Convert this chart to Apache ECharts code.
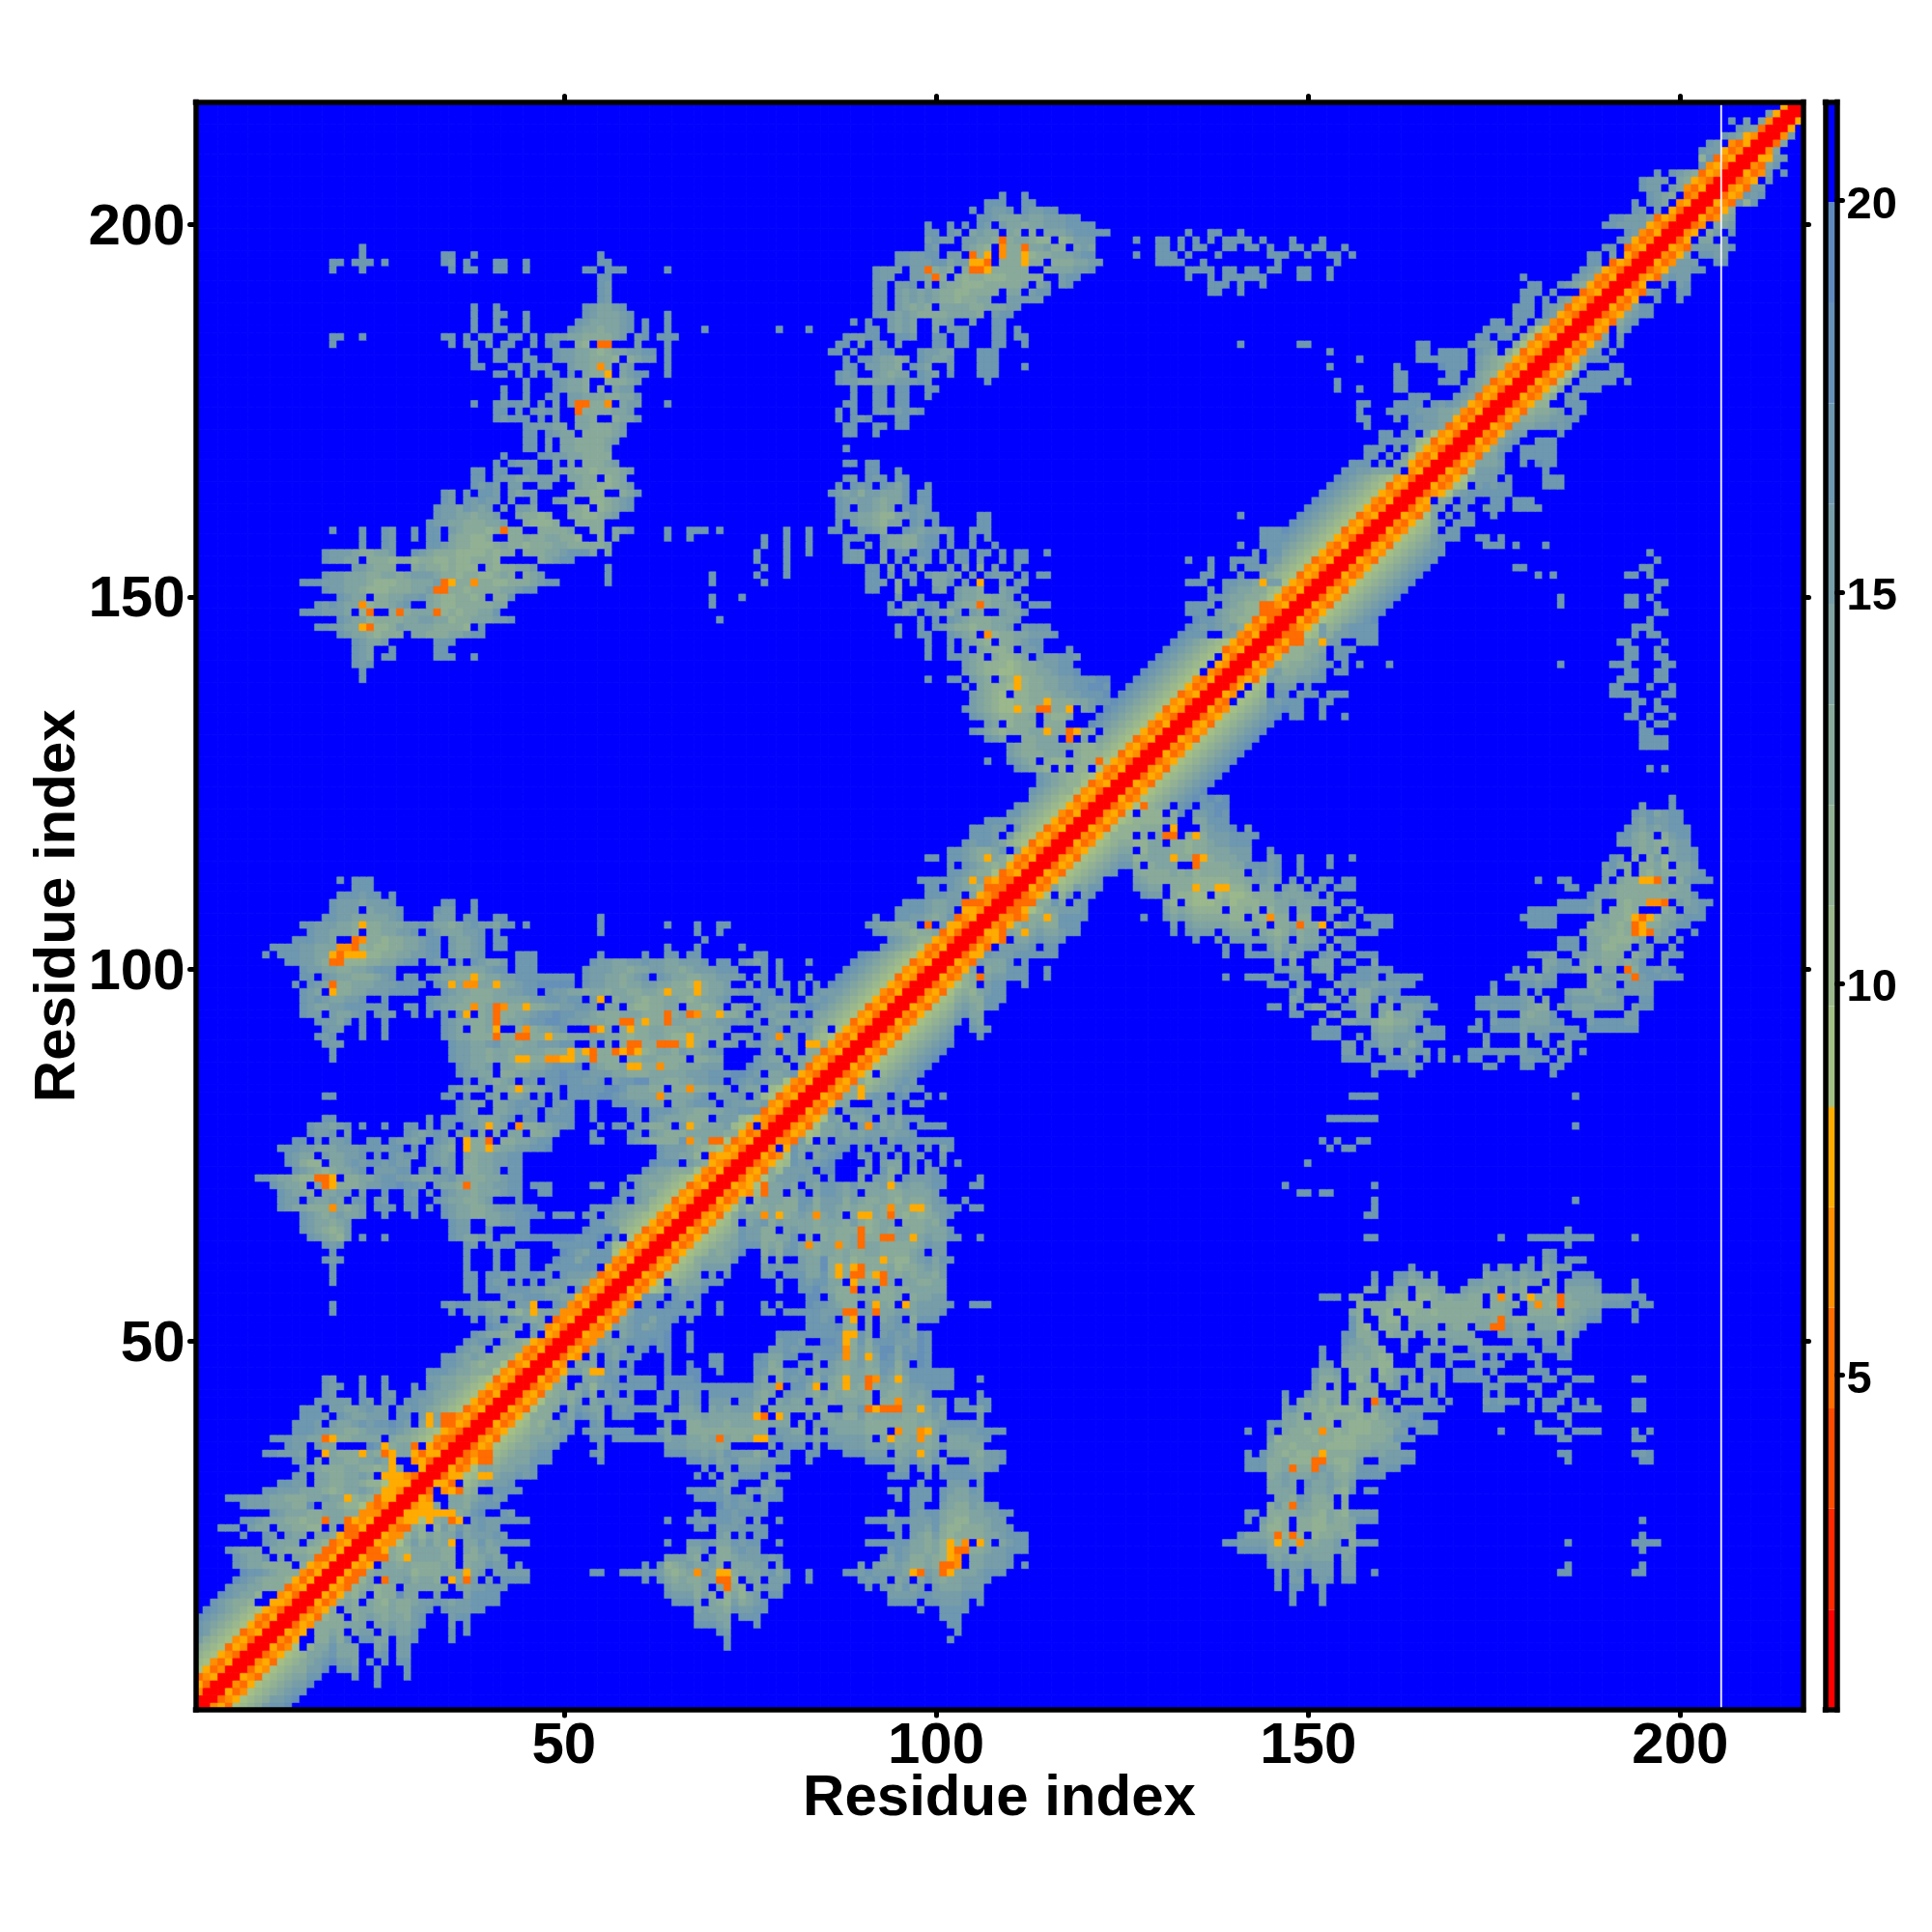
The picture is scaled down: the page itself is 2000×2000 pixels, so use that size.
<!DOCTYPE html>
<html><head><meta charset="utf-8">
<style>html,body{margin:0;padding:0;background:#fff}#c{width:2000px;height:2000px}</style>
<script src="https://cdn.jsdelivr.net/npm/echarts@6/dist/echarts.min.js"></script>
</head><body><div id="c"></div>
<script>
const residues = Array.from({length:216},(_,i)=>String(i+1));
const axisTicks = [50,100,150,200];
const colorbarTicks = [5,10,15,20];
const levelChars = "012345abcdefghi~";
const levelColors = ["#FF0000","#FF2800","#FF4B00","#FF6C00","#FF8E00","#FFAB00","#A4BF86","#9BB88D","#92B194","#89AA9B","#80A4A2","#779DA9","#6E97B0","#6690B7","#5F8ABD","#0000FF"];
const levelBreaks = [0.72,2.0,3.29,4.57,5.86,7.14,8.42,9.71,10.99,12.28,13.56,14.85,16.13,17.41,18.7,19.98,21.26];
const levelValues = [1.4,2.6,3.9,5.2,6.5,7.8,9.1,10.4,11.6,12.9,14.2,15.5,16.8,18.1,19.3,20.6];

// diagonal band, one string per residue 1..216, characters run from |i-j|=12 to |i-j|=0
const diagonalBand = [
"hgfedcba43500","hgfedcba54300","hgfedcba35400","hgfedcba45300","hgfedcba34500","hgfedcba53400","hgfedcba43500","hgfedcba54300",
"hgfedcba35400","hgfedcba45300","hgfedcba34500","hgfedcba53400","hgfedcba43500","hgfedcba54300","hgfedcba35400","hgfedcba45300",
"hgfedcba34500","hgfedcba53400","hgfedcba43500","hgfedcba54300","hgfedcba35400","hgfedcba33500","hgfedcba34500","hgfedcba53400",
"hgfedcba43500","hgfedcba54300","hgfedcba35400","hgfedcba45300","hgfedcba34500","hgfedcba53400","hgfedcba43500","hgfedcba54300",
"hgfedcba35400","hgfedcba45300","hgfedcba34500","hgfedcba53400","hgfedcba43500","hgfedcba54300","hgfedcba35400","hgfedcba45300",
"hgfedcba34500","hgfedcba53400","hgfedcba43500","hgfedcba54300","hgfedcba35400","hgfedcba45300","hgfedcba34500","hgfedcba53400",
"hgfedcba43500","hgfedcba54300","hgfedcba35400","hgfedcba45300","hgfedcba34500","hgfedcba53400","hgfedcba43500","hgfedcba54300",
"hgfedcba35400","hgfedcba45300","hgfedcba34500","hgfedcba53400","hgfedcba43500","hgfedcba54300","hgfedcba35400","hgfedcba45300",
"hgfedcba34500","hgfedcba53400","hgfedcba43500","hgfedcba54300","hgfedcba35400","hgfedcba45300","hgfedcba34500","hgfedcba53400",
"hgfedcba43500","hgfedcba54300","hgfedcba35400","hgfedcba45300","hgfedcba34500","hgfedcba53400","hgfedcba43500","hgfedcba54300",
"hgfedcba35400","hgfedcba45300","hgfedcba34500","hgfedcba53400","hgfedcba43500","hgfedcba54300","hgfedcba35400","hgfedcba45300",
"hgfedcba34500","hgfedcba53400","hgfedcba43500","hgfedcba54300","hgfedcba35400","hgfedcba45300","hgfedcba34500","hgfedcba53400",
"hgfedcba43500","hgfedcba54300","hgfedcba35400","hgfedcba45300","hgfedcba34500","hgfedcba53400","..fedcba43500","..fedcba54300",
".gfedcba35400",".gfedcba45300",".gfedcba34500",".gfedcba53400",".gfedcba43500",".gfedcba54300",".gfedcba35400",".gfedcba45300",
"..fedcba34500","..fedcba53400","..fedcba43500","..fedcba54300","..fedcba35400","..fedcba45300","..fedcba34500","..fedcba53400",
"..fedcba43500","..fedcba54300","..fedcba35400","..fedcba45300","..fedcba34500","..fedcba53400","..fedcba43500","..fedcba54300",
"hgfedcba35400","hgfedcba45300","hgfedcba34500","hgfedcba53400","hgfedcba43500","hgfedcba54300","hgfedcba35400","hgfedcba45300",
"hgfedcba34500","hgfedcba53400","hgfedcba43500","hgfedcba54300","hgfedcba35400","hgfedcba45300","hgfedcba34500","hgfedcba53400",
"hgfedcba43500","hgfedcba54300","hgfedcba35400","hgfedcba45300","hgfedcba34500","hgfedcba53400","hgfedcba43500","hgfedcba54300",
"hgfedcba35400","hgfedcba45300","hgfedcba34500","hgfedcba53400","hgfedcba43500","hgfedcba54300","hgfedcba35400","hgfedcba45300",
"hgfedcba34500","hgfedcba53400","hgfedcba43500","hgfedcba54300","hgfedcba35400","hgfedcba45300","......ba34500","......ba53400",
"......ba43500","......ba54300","......ba35400","......ba45300","......ba34500","......ba53400","......ba43500","......ba54300",
"......ba35400","......ba45300","......ba34500","......ba53400","......ba43500","......ba54300","......ba35400","......ba45300",
"......ba34500","......ba53400","......ba43500","......ba54300","......ba35400","......ba45300","......ba34500","......ba53400",
"......ba43500","......ba54300","......ba35400","......ba45300","......ba34500","......ba53400","......ba43500","......ba54300",
"......ba35400",".......a45300",".......a34500",".......a53400",".......a43500",".......a54300",".......a35400",".......a45300",
"......ca34500","......da53400","......ea43500",".......fe5400",".......gfe300",".........e400",".........f500","..........500"
];

// contacts off the band, "row|col:cells col:cells", '.' marks a gap
const blobLeftTop = [
"197|23:g","196|23:g 34:gg 38:g 55:g","195|19:gg 22:ggg 26:g 34:gf 37:g 41:gg 45:g 55:gg",
"194|19:g 23:g 35:g 37:gg 41:gg 45:g 53:gg 56:ggg 64:g","193|55:gg","192|55:gf","191|55:gf","190|55:gf",
"189|38:g 41:g 53:gfeefg","188|38:g 41:gg 45:g 53:gfeeefg 64:g","187|38:g 41:g 45:g 52:gfeeeefg 61:g 64:g",
"186|38:g 41:gg 45:g 51:gfeedeefg 61:g 64:g 69:g 79:g 83:g",
"185|19:gg 23:g 34:gg 37:g 39:gg 43:gg 46:g 48:gffeeddddef.fg 61:g 63:ggg",
"184|19:g 35:g 37:gg 40:g 42:gg 46:g 48:gg 52:dc 54:. 55:33 60:f 64:g",
"183|38:g 41:gg 45:g 49:gffeedcdeeffgg 64:g","182|38:g 41:gg 45:gg 49:gffeedddc.deff 64:g",
"181|38:gg 43:gg 46:ggf 51:feed 55:4 56:d 58:ef 64:g","180|41:gg 44:g 46:g 48:gg 51:g 53:edd 56:5 58:efgg 64:g",
"179|45:g 49:gfeed 55:. 56:dddef","178|42:g 45:g 49:gfeed 54:. 55:d 56:. 57:eff",
"177|42:g 45:g 48:gg 51:ffeeeddeeg","176|38:g 41:gfggf 47:g 49:f 51:f 52:33 54:dd 56:4 58:eff 64:g",
"175|41:gg 44:g 46:gf 48:g 49:f 52:3 53:ddddeef","174|41:gfgg 45:g 47:g 49:f 52:eed 55:.. 57:deeg",
"173|45:gfffee 52:eedddef","172|45:gg 48:gfeef 52:. 53:ddddef","171|45:gg 48:f 50:eeddddef","170|45:gg 48:f 50:eedddde",
"169|42:g 47:ggffeedddd","168|41:g 43:gfff 49:f 51:e 53:dddef","167|38:gg 41:gg 45:gf 49:feeddcdddef",
"166|38:gg 41:gffeeffff 51:eedd 55:. 56:cde","165|38:gfgf 43:ff 47:ff 52:eddccdef","164|34:gf 37:g 39:ggf 43:feff 51:eddcc 57:. 58:deg",
"163|34:gf 37:gfgff 43:f 46:f 49:fee 54:ccdefg","162|33:gffegfe 40:f 42:f 44:ffe 51:edc 54:. 55:cdefg",
"161|33:gffeedeef 44:eddcd 51:ddccdef","160|32:gffeedddeef 45:dcccd 52:dd 54:dd 58:.",
"159|19:g 23:g 26:gf 30:g 32:gg 35:fedddcde 42:3 43:dd 47:dddde 54:dd 57:efg 64:g 67:ggg 71:g 80:g 83:g",
"158|23:g 26:gf 30:g 32:gg 35:eddccd 42:. 43:ddeddeeddc 55:d 56:. 57:e 64:g 67:g 77:g 80:g 83:g",
"157|23:g 26:gf 32:ggfeddcccdeddcdddeedddd 55:d 56:e 77:g 80:g 83:g",
"156|18:gfffeddeef 30:gfedddccccdcdd 45:dddeefggg 54:e 56:e 76:g 80:g 83:g",
"155|18:gffeee 23:. 24:dddcddcddccdccdddc 46:. 47:defgg 76:g 80:g",
"154|22:ffeddd 29:. 30:deddcdcccd 39:. 40:dcddeef 56:g 77:g 80:g",
"153|18:gffeeeddeedefffeddcddccdedd 44:. 45:def 56:g 70:g 76:g 80:g",
"152|15:gggfffeeedcccddeeefdd 34:35 36:ddc 38:4 39:ddccdddefgg 56:g 70:g 77:g",
"151|18:gffeedcccdddeefedd 33:33 35:ddcddddeefgg","150|20:gfeed 24:. 25:ddeeffgedccddcdcc 40:. 41:ddg 70:g 74:g",
"149|17:gfgfeed 23:4 24:cddefg 31:. 32:edccdddddee 70:g","148|15:gggfffefe 22:. 23:c 24:3 26:. 27:d 28:3 29:deee 33:3 34:cdcddeeg",
"147|20:gfeecddddeeffeecddeeeffg 71:g","146|17:ggffeed 23:5 24:3 25:ccdfeeeeddddcd 38:. 39:g",
"145|20:gfeedcddd 29:. 30:eedddeefg 38:gg","144|22:gfeef 33:ggg","143|22:gfe 27:g 33:gg","142|22:gfe 26:gg 33:ggg 38:g",
"141|22:gfg","140|23:g","139|23:g"
];
const blobTopMiddle = [
"204|109:g 112:g","203|107:ggg 112:gg","202|105:g 107:gffg 112:gffgg","201|106:ggfeeefeefffgg",
"200|99:g 102:g 104:g 106:gf 109:feedeefffgggg","199|99:gg 102:gf 105:efee 109:. 110:ed 112:. 113:d 114:. 115:eeefggggg",
"198|99:fgf 102:f 104:ffeed 109:3 110:deedc 115:c 116:. 117:cdfff","197|99:gf 101:. 104:fedcd 108:. 109:4 110:ddd 112:3 113:eefddddce 118:. 119:ef",
"196|95:ggffgg 101:. 102:ff 104:. 105:3 106:d 107:5 108:. 109:4 110:dd 112:5 113:cddeeefgg",
"195|95:ggfffggefff 105:55 107:3 108:. 109:d 110:dd 112:5 113:ddd 115:. 116:dddeeff",
"194|92:gfff 96:. 97:ffe 99:3 100:ded 103:. 104:d 105:33 107:5 108:ddddd 113:.. 115:d 116:eeeffg",
"193|92:gff 96:. 97:ffe 100:3 101:d 102:. 103:dcddcccddddd 116:. 117:fgg",
"192|92:gg 95:ffg 98:. 99:e 100:. 101:eddcccddddde 113:. 114:ef 117:fg",
"191|92:gg 94:. 95:fefefeddccdddd 109:. 110:ee 112:. 113:fgg","190|92:gg 95:fefefeddcddee 109:. 110:ff 112:fff",
"189|92:gg 94:. 95:fededfed 100:. 102:eeeddeeeff","188|92:gffefeddddeeeed 108:fgg","187|89:g 91:g 94:fefe 99:. 100:eef 103:.. 105:f 108:gg",
"186|91:gg 93:. 94:fefe 99:. 100:e 101:. 102:f 103:gg 108:gg 111:g","185|88:gffgg 95:ggf 100:gg 103:gg 108:gg 111:gg",
"184|87:gg 89:. 90:f 92:fg 94:. 95:f 96:. 100:gg 103:gg 108:gg 112:g","183|86:gg 88:. 89:g 92:fgg 96:. 98:gffee 104:.. 106:ggg",
"182|88:g 89:. 90:ggfeedef 97:. 98:gfeef 106:ggg","181|88:gg 90:. 91:ffeedd 96:. 97:gfe 102:f 106:ggg 112:g",
"180|87:gfg 91:. 92:fedee 97:. 98:gfe 102:g 106:ggg","179|87:gffeeeeefffgf 107:g","178|89:g 92:gg 95:gg 99:gg","177|89:g 92:gg 95:gg 99:g",
"176|88:gg 92:gg 95:gg","175|87:g 88:. 89:g 92:gfgfgfg","174|87:g 89:gfg 95:gg","173|88:gg 92:gg 95:gg","172|88:gg 92:g","170|88:g"
];
const blobSparseTop = [
"199|134:g 137:gg 141:g","198|127:g 130:gg 133:g 135:g 137:g 139:gggg 144:g 148:g 152:g",
"197|130:gg 133:g 135:gg 139:gg 142:gg 145:g 148:gg 151:gg 155:g","196|127:g 130:ggg 134:g 138:g 145:ggg 150:g 153:gg 156:g",
"195|130:gggg 136:g 146:g 154:g","194|134:ggg 137:g 139:gg 142:gg 145:gg 149:gg 153:g","193|134:g 137:g 139:ggg 142:ggg 149:gg 153:g",
"192|137:ggg 141:g 144:g","191|137:gg 141:g","184|141:g 149:gg","183|153:g","182|157:g","181|153:g 162:g","180|162:gg","179|154:g 162:gg",
"178|154:g 157:g 162:gg","176|157:gg 162:gg 164:gg","175|157:g 161:g 163:gg","174|157:gg 162:g","173|158:g","172|160:gg 162:. 163:gg 165:. 166:e",
"171|160:gggg 164:f","170|158:ggg 161:. 162:g 163:. 164:e","169|158:gg 160:. 161:g 162:. 163:e","168|156:ggg 159:. 160:g 161:. 162:ed","167|155:ggffeeeed 163:.",
"161|141:g"
];
const bandTopEdge = [
"214|207:g 209:f","213|207:.","212|206:gf 208:ed","211|204:gf 206:. 207:fe","210|203:gffedd","209|204:gfedc","208|203:gfeedc",
"207|197:g 199:gf 201:edcb","206|195:gfff 199:. 200:edcb","205|195:gff 198:. 199:fedc","204|196:gfe 199:d 200:.","203|194:g 196:gfe 199:.",
"202|194:gf 196:. 197:f 198:. 199:d","201|191:ggfffe","200|190:ggffffe","199|193:gfeed","198|192:gfee","197|190:gg 192:. 193:d",
"196|188:gg 190:. 191:f 192:. 193:d","195|188:gg 190:. 191:e","194|187:gfedc","193|179:g 186:gfe","192|180:gg 184:gfed",
"191|179:ggg 183:g 184:... 187:e","190|179:gg 181:. 182:g 183:. 184:fe","189|178:ggg 181:. 182:gfe","188|178:ggg 181:. 182:gfd",
"187|175:gg 178:gg 180:. 181:fe","186|174:gggfg 179:. 180:e","185|173:gg 175:. 176:gg 178:. 179:d","184|165:gg 172:gfff 177:. 178:d",
"183|165:gg 168:gggg 172:. 173:gfe 176:. 177:d","182|165:ggg 168:gggg 172:. 173:fedcb","181|162:g 168:hggg 172:. 173:fedc",
"180|162:gg 169:gg 171:.. 173:edc","179|162:gg 168:ggg 171:. 172:fedcb","178|162:gg 171:gfedc","177|164:ggg 170:gfedc",
"176|164:gg 166:. 167:gf 169:gfed","175|162:g 164:gfffeedd","174|162:g 164:ggffeeddcc","173|164:gfffeedcb",
"159|144:ggg","158|144:ggg","157|141:g 144:ggg","156|143:g 144:. 145:gg","155|134:g 137:g 140:gggg 144:. 145:ff",
"154|137:g 140:g 141:. 142:gg 144:ff","153|136:gg 141:g 142:.. 144:f","152|134:ggg 137:.. 139:ggffe 144:5 145:ff","151|137:g 138:. 139:gfeedd",
"150|137:ggfeeddc","149|134:ggg 137:f 138:. 139:fedcc 144:33","148|134:ggg 137:. 138:feddcc 144:33","147|137:gfedccb 145:3","146|137:gfefdcc",
"145|134:ggg 137:.. 139:fedcba 145:5","142|138:.","141|137:.","140|136:."
];
const blobUpperMiddle = [
"168|88:gg 91:gg","167|91:gg 95:g","166|88:gf 91:gfg 95:gg","165|87:g 88:. 89:gfg 92:. 93:gfeg 99:g","164|86:gfefdffeeeg 98:gg","163|87:gfeffedeeg 98:gg",
"162|87:gf 89:. 90:ffedeef 95:. 96:g 97:gfg","161|87:gffeedcceef 97:gfgg 106:gg","160|87:g 88:. 89:feedceef 96:. 97:gf 99:. 100:g 106:gg",
"159|86:gg 88:.. 90:gfedd 94:.. 96:gfeffeg 105:ggg","158|88:gg 90:g 93:feeddfgg 101:. 102:g 105:g 106:. 107:g","157|88:g 91:g 93:feeddfgg 101:. 102:g 105:g 107:. 108:g",
"156|88:gff 93:e 95:gf 98:gg 101:g 103:gg 106:gg 109:g 111:gg 115:g","155|88:gff 93:e 95:g 97:gfg 101:g 103:gg 106:f 109:g 111:gg",
"154|91:gg 94:e 96:f 98:e 102:f 104:e 106:d 108:f 111:g","153|91:gg 94:f 96:gf 99:feefe 104:. 105:f 106:. 107:gffff 111:. 112:g 114:gg",
"152|91:ggf 94:. 95:d 96:. 97:g 100:eeg 103:. 104:f 106:5 107:.. 109:f 110:. 111:gf","151|91:gg 95:d 100:fe 103:feed 107:.. 109:ef 111:g",
"150|95:f 98:g 103:feeddeef 111:. 112:g","149|94:g 95:. 96:feg 99:gf 101:. 102:fedd 106:3 107:deeef 112:. 113:ggg","148|94:gfeg 98:. 99:gfedf 104:. 105:fe 107:.. 109:feeg",
"147|98:g 99:. 100:g 102:gfedddeeef","146|95:g 98:g 99:. 100:gfeddcddeef 111:. 112:fggg","145|95:g 98:gg 102:gfed 106:. 107:4 108:cddeefffg",
"144|99:g 102:g 103:. 104:fedc 108:. 109:ddefgg","143|99:g 102:g 103:. 104:f 105:. 106:edccd 111:. 112:ffg 118:g","142|99:g 102:gg 104:fed 107:. 108:dccde 113:. 114:gffggf",
"141|104:fedcccbcddeffgg 119:.","140|104:fedccbbcddeefggh","139|99:g 102:gg 104:. 105:fed 108:. 109:dc 111:5 112:cddeeffggghh","138|104:f 105:. 106:edccb 111:5 112:cddeeffgghhg",
"137|105:fedcb 110:. 111:ccdddeeffgggh","136|105:fedcbbccdd 115:5 116:dddeefgg","135|104:gfedcbb 111:5 112:cc 114:33 116:dd 118:5 119:. 120:ef",
"134|105:gfed 109:ccdde 114:. 115:dccd","133|107:fe 109:. 110:cddd 114:. 115:ddd","132|105:gfed 109:cdddeee 115:5 116:dd 118:3 119:5 120:dde 122:.",
"131|107:gfe 110:.. 112:ddeee 118:3 119:. 120:e 121:.","130|110:feddeeeeedcc","129|110:fedddeee 118:. 119:dcc","128|107:g 110:gfed 114:. 115:dccddcc 122:3",
"127|111:gfedc 116:. 117:c 118:. 119:cc 121:.","126|114:gfedccb","125|114:gfedcc","124|113:gfedcc"
];
const blobNearHelix = [
"122|111:g","121|110:gg","120|107:gggf","119|105:gggff 110:. 111:f","118|105:gggf 109:. 110:f","117|104:gfggfe","116|102:ggfeddeg 110:. 111:e",
"115|99:gg 102:ggfed 107:5 108:ed","114|102:g 103:. 104:gfedcd","113|102:ggfedd","112|98:gggg 102:gfe 105:5 106:e 107:453","111|99:gg 101:. 102:gfedc 107:333",
"110|99:gg 101:g 102:ffe 104:. 105:ed","109|96:gggfeeff 104:33 106:d 107:4","108|95:ggggfeef 103:. 104:55 106:d 107:3","107|92:g 95:ggffedeg",
"106|91:gfeeddeg 98:. 99:3 100:. 101:f 102:5 103:dd","105|92:gfeedcddee 102:5 103:3","104|94:gfedcc","103|93:gfedc",
"102|76:gg","101|76:gg 79:g 83:g","100|76:. 77:g 79:g","99|76:gg 79:g 83:g","98|76:. 77:g 79:gg 82:g 83:. 84:g","97|76:ggg 79:. 80:g 82:g 83:. 84:gff",
"96|76:gffgg 83:gf","95|76:. 77:gfeefg","94|76:gfeff 83:. 84:e","93|76:g 77:. 78:feefg","92|76:gff 79:g 80:. 81:ffg 86:.","91|76:. 77:gf 79:4 80:fg 82:. 83:f",
"90|76:gfef 80:ef 82:. 83:55 85:d 86:5","89|76:. 77:ff 79:. 80:ef 82:. 83:dd","88|76:gfee 80:. 81:fed","87|76:gff 79:fe 81:. 82:e","86|76:g 77:. 78:eefg","85|76:gfee"
];
const blobMiddleRows = [
"112|20:g 22:ggg","111|22:ggg","110|20:gggfgg 27:g","109|19:gfffefffg 34:gg 38:g","108|19:gfff.efffg 33:gff 38:g","107|18:ggffeeeeefg 33:fff 37:gg 41:gg 55:g",
"106|15:ggfffeed 23:5 24:ddeeeffgfeedefgffegg 45:g 55:g 64:g 68:g 71:gg","105|16:gffeeed 23:. 24:ddeeffg 31:. 32:gfeeeffg 40:. 41:g 55:g 68:g 71:g",
"104|14:gggffe 20:.. 22:34 24:ddcddeefgg 34:. 35:feefg 40:. 41:gg 69:g","103|11:ggggffeee 20:443 23:cdccddeefgg 34:. 35:feefg 41:gg 64:g 68:g 74:g",
"102|10:g 12:gggffee 19:53555 24:ccddeeffgg 34:. 35:feef 39:g 40:. 44:ggg 55:g 61:g 64:gg 67:gg",
"101|13:ggffed 19:33 21:cccddeefgg 31:. 32:gfe 35:. 36:g 37:. 38:gfeef 43:. 44:ggg 54:gffeeffgffeefffg 70:. 71:ggf 73:. 74:gfeg",
"100|15:gffeeddeefggg 34:gfeeeefgg 43:. 44:ggg 53:gfffeedeeffeedefffggg 77:g",
"99|15:gg 17:. 18:gfeedddefg 29:gg 31:. 32:gfeedd 38:5 39:deeffgg 46:gggggg 53:gffeedefg 62:. 63:gfeeddeefffg 75:. 76:g",
"98|14:g 15:. 16:gfe 19:3 20:ddeeefffgggg 32:. 33:gf 35:5 36:e 37:44 39:ee 41:5 42:eefgghhhhh 53:gffeedeeffeeddc5deef 75:f 76:. 77:g",
"97|15:gfe 18:. 19:5 20:ddeefffggg 30:g 34:gfeedddeeffgg 47:. 48:gffeedeedeeddee 63:d 64:5 65:ddd 68:5 69:deeffggfg",
"96|15:gf 17:gfeeffg 26:g 32:gffeeddddeeeeeffggfgg 53:. 54:f 55:5 56:. 57:deedcddeedcdeefg 76:gg",
"95|15:gfeeffggg 24:ggg 29:gg 31:. 32:gfeedd 38:4 39:de 41:34 43:dd 45:5 46:ddeeffggf 55:. 56:ee 58:. 59:dccddee 66:. 67:ddcde 72:. 73:eeg",
"94|15:gff 18:. 19:feefg 25:gff 30:g 32:g 34:g 35:. 36:g 37:5 38:. 39:de 41:3 42:ddeefgghggf 53:fedddeeeddd 64:3 65:de 67:34 69:ddd 71:5 72:dde 75:.",
"93|17:gffeg 23:g 26:g 34:gfeedde 41:3 42:deefgghhgffeeedd 58:33 60:d 61:5 62:dd 64:3 65:eeddeeffgfg",
"92|18:gff 23:g 26:g 34:gfe 37:. 38:dde 41:5 42:.. 44:d 45:4 46:deefg 51:.. 54:35 56:e 57:. 58:d 59:5 60:ddeedddeedeef",
"91|17:gfg 23:g 26:g 34:gfeeddd 41:3 42:dd 44:33 46:ddd 48:5 49:ddeeeffeedcddeedcc 67:5 68:ddee 72:. 73:ffg",
"90|18:gff 35:gffeefgeedeefffgg 54:f 55:. 56:e 57:. 58:d 59:33 61:dd 63:333 66:d 67:5 68:de 70:. 71:eef 74:. 75:f",
"89|19:g 35:gffeedeedeeeeddd 51:5 52:d 53:5 54:3 55:dd 57:3 58:5 59:3 60:5 61:cdeedfeeffg",
"88|19:g 35:gffeedeed 44:55 46:dd 48:44 50:55 52:dd 54:3 55:ddd 58:. 59:ddeedddd 67:. 68:ddee",
"87|36:gfeef 41:. 42:eeddeefgggh 53:. 54:fedde 59:55 61:dd 63:4 64:ddeeefff",
"86|36:gffee 41:. 42:ddeeffgghgggfffeedddeeeeefffggghhgf","85|37:g 38:. 39:fedef 44:. 45:gf 47:. 48:gghggffg 56:. 57:fgghheeddeeffgg",
"84|35:gfeef 40:. 41:eed 44:5 45:deefg 50:. 51:ggggghhgeeedd 64:. 65:dd 67:4 68:ddeef 73:. 75:ee 77:.",
"83|18:gg 34:gg 36:. 37:g 40:fe 42:. 43:eef 46:. 47:g 48:. 49:g 50:. 51:gggghhgfeeee 63:4 64:eeeefg 70:. 71:fffg 75:. 76:f",
"82|36:gfee 41:eefggfg 48:. 49:gfg 54:g 57:gggffee 64:. 65:eefggg 71:. 72:gffeef","81|36:gfe 40:. 41:eefgfg 47:. 48:gfgg 54:g 59:gg 61:. 62:gggfeeddeeffggg",
"80|18:gg 32:g 34:gggffeeefg 44:. 45:gg 48:gggg 54:g 59:gg 61:. 62:gfeeedddd 70:. 71:fff","79|16:gffefg 23:g 26:g 29:gg 32:g 34:gg 36:. 37:gfe 40:5 41:ee 43:. 44:4 45:ddeeffg 55:g 57:gg 59:. 60:fedde 65:. 66:f 67:5 68:deeef 76:. 77:4",
"78|16:gffg 20:. 21:f 29:gfefgf 35:. 36:fg 38:. 39:e 40:. 41:e 42:. 43:ee 45:. 46:ddef 54:g 59:gg 61:. 62:fedddeeeeedd","77|14:gg 16:. 17:g 18:. 19:ffg 24:gg 27:gffef 32:. 33:gfe 36:. 37:5 38:dd 40:3 41:. 42:ddeefgg 54:gg 59:gfedddd 67:4 68:de 70:33",
"76|12:gggffeeefffgggfgg 29:. 30:g 31:. 32:gfed 36:. 37:5 38:dd 40:5 41:deeffggh 63:gff","75|13:gfee 17:. 18:feeffg 24:. 25:g 26:. 27:gfgf 31:. 32:gfef 36:. 37:edeeffgg 63:gffee 69:. 70:4 71:5",
"74|13:gfdcc 18:. 19:eefgfggfgff 31:. 32:gfef 36:. 37:ddeeffgg 64:gg 66:. 67:fedd","73|14:gfedcdeefg 24:. 25:fffgg 30:. 31:gf 33:. 34:gf 36:. 37:ddeef 42:. 43:gg 61:gfeeddd",
"72|9:ggfeedcc 17:335 20:. 21:ddeefggffeeeffgeeddeefgg 45:. 59:gfeee","71|11:gfeed 16:. 17:e 18:35 20:dddeffgghggf 32:. 33:feed 37:3 38:deeffgg 45:. 46:ggg 54:gg 58:g 59:. 60:fedd",
"70|12:gfeed 17:. 18:eeff 22:. 23:f 26:g 29:gf 32:g 34:gfeedeeefgg 47:gg 58:g 60:fee","69|12:gff 15:. 16:feefe 21:. 22:gg 25:gf 29:gg 33:gfeeddef 44:g 58:g 59:. 60:fe",
"68|12:gfeeddd 19:4 20:edef 25:ggg 29:gg 32:g 34:gfeeddefggghh 54:gggfeedd","67|15:gfedefeef 26:g 30:g 34:gfeeddeeffgghh 49:ggg 53:gg 55:. 56:ff",
"66|15:gfeedef 35:gff 39:. 40:eeffgg 54:gg","65|15:gfedcdf 35:gff 39:. 40:g 44:gg 54:gggg","64|16:gfedcf 23:g 26:g 35:gfeeff 41:. 42:gggghhhhhhgggh 56:. 57:g 58:.",
"63|18:gfg 37:gf 39:. 40:gfgg 49:gggggg 55:. 56:g","62|19:g 37:g 41:g 44:gg 54:ggg","61|18:gfg 37:g 41:g 44:gg 51:g 53:gggg","60|19:g 37:g 41:g 44:gg 48:gggggggg 55:. 56:gg",
"59|19:g 37:gg 40:ggfggghgg 49:. 50:gfffe","58|19:g 37:gg 39:. 40:g 41:ff 43:. 44:g 45:. 46:g 47:. 48:gffeedd","57|37:gg 40:ggfgggffeef 51:. 52:fe","56|38:g 42:gffgggffeeedd",
"55|19:g 34:gfggffeef 43:. 44:ff 46:5 47:.. 49:gfeddc","54|19:g 35:g 36:. 37:g 38:fgfeedc 46:5 47:eee 50:44","53|38:g 39:. 40:gf 42:. 43:gfed 47:e 48:. 49:f","52|41:gfee 45:. 46:feed",
"51|38:gfeedd 44:.. 46:f 47:. 48:d","50|38:gffeddcc","49|37:gfee 41:. 42:ddd","48|35:gfeef 40:. 41:ddcc","47|35:gffeedd","46|32:gggfeeedd"
];
const blobLowerRows = [
"50|37:gfgg 41:. 42:fed","49|36:gfee 40:. 41:edd","48|34:ggfefed","47|34:ggfedc","46|32:gggfeedd",
"45|18:gf 23:g 26:g 32:ffeedd","44|18:gfg 23:g 26:g 30:g 32:gfeed","43|18:gf 23:g 26:gf 30:ggfe","42|17:ggfff 23:gf 26:gg 29:ggffe",
"41|15:gggf 18:. 19:ffeefgffg 27:. 28:gfgf","40|15:gggf 19:. 20:gfeefff 27:. 28:gg 30:. 31:f 32:5 33:e 34:33","39|14:gggf 18:. 19:feefgf 25:gg 30:. 31:e 32:5 33:e 34:33",
"38|14:gggffeeddefff","37|11:gggffeeee 18:35 20:ddeeeef 26:. 27:ed 35:3","36|13:gff 16:. 17:fee 26:5 27:deed 30:3 31:. 32:5 33:e 34:4",
"35|10:ggfffeg 16:.. 18:5 19:edddf 23:5 24:edd 26:35 28:ee 30:5 31:e 32:5","34|14:gf 16:. 17:ef 18:. 19:eeddeefed 27:5 28:.. 30:d 31:ee",
"33|15:gfedddeeddcdef 27:5 28:e 29:.. 31:5","32|14:gf 16:. 17:eeddeefed 25:. 26:55 28:e 29:e 30:3","31|12:ggff 16:. 17:eeddeedcc 27:55 29:e",
"30|10:ggfffeeedcdeefed 26:5545","29|5:gggfffeedddeefeecc 21:5 22:cdc 26:5","28|7:gfffeeedd 17:. 18:eedcc 24:434","27|11:gfeeeddeeedd 23:444",
"26|7:ggfeeeddcddd 18:3 19:ee 21:3545","25|4:ggg 7:. 8:fee 11:. 12:eeddcc 18:. 19:e 20:. 21:335","24|7:g 8:.. 10:gf 12:. 13:fee 16:. 17:eedd 22:3",
"23|10:gfeee 15:. 16:edcc 21:5","22|5:gfeee 10:. 11:eedddcc 20:5","21|6:gfee 11:. 12:e 13:. 14:eedc 17:335","20|6:gfeedddd 14:. 15:de 17:45","19|9:gfedddcc 17:54",
"18|7:gfedddcc 16:55","17|5:gffeedddcc 16:5","16|5:gfee 10:.. 12:edcc","15|3:gfed 9:.. 11:5","14|2:hgfe","13|1:hgf","12|1:gf","11|1:gf","10|1:f"
];
const contactRows = [bandTopEdge, blobLeftTop, blobTopMiddle, blobSparseTop, blobUpperMiddle, blobNearHelix, blobMiddleRows, blobLowerRows];

const N = residues.length;
const cell = Array.from({length:N+1},()=>new Array(N+1).fill(15));
diagonalBand.forEach((s,i)=>{
  const row=i+1;
  [...s].forEach((ch,k)=>{
    const col=row-(12-k);
    if(ch!=='.'&&col>=1){const l=levelChars.indexOf(ch);cell[row][col]=l;cell[col][row]=l;}
  });
});
contactRows.forEach(list=>list.forEach(line=>{
  const [r,rest]=line.split('|');const row=+r;
  rest.trim().split(' ').forEach(tok=>{
    const [c,pat]=tok.split(':');
    [...pat].forEach((ch,k)=>{
      const col=+c+k;
      if(col>=row-1||col<1)return;
      const l=ch==='.'?15:levelChars.indexOf(ch);
      if(row-col<=4&&l>=6&&l<15)return;
      cell[row][col]=l;cell[col][row]=l;
    });
  });
}));
const seam=levelColors.map(c=>({borderColor:c,borderWidth:0.45}));
const heat=[];
for(let y=1;y<=N;y++)for(let x=1;x<=N;x++){const l=cell[y][x];heat.push({value:[x-1,y-1,levelValues[l]],itemStyle:seam[l]});}
const pieces=levelColors.map((c,i)=>({gte:levelBreaks[i],lt:levelBreaks[i+1],color:c}));
const showTick=(i,v)=>axisTicks.includes(+v);
const frame={lineStyle:{color:'#000',width:5.5,cap:'square'},onZero:false};
const font={fontFamily:'Liberation Sans',fontWeight:'bold',color:'#000'};
const mainAxis=(pos,extra)=>Object.assign({type:'category',data:residues,position:pos,z:6,boundaryGap:true,
  axisLine:Object.assign({show:true},frame),
  axisTick:{show:true,alignWithLabel:true,interval:showTick,length:6,lineStyle:{color:'#000',width:5,cap:'round'}},
  axisLabel:{show:false},splitLine:{show:false},splitArea:{show:false}},extra);
const richLabel=(fontSize,top)=>({formatter:v=>`{t|${v}}`,rich:{t:{fontSize,padding:[top,0,0,0],...font}}});
chartInit();
function chartInit(){
const chart=echarts.init(document.getElementById('c'),null,{renderer:'canvas'});
chart.setOption({
  animation:false,backgroundColor:'#fff',
  grid:[{left:202.5,top:105.5,width:1664,height:1664.5},{left:1889.5,top:105.5,width:12,height:1664.5}],
  xAxis:[
    mainAxis('bottom',{gridIndex:0,axisLabel:{show:true,interval:showTick,fontSize:60,margin:8,...font},name:'Residue index',nameLocation:'middle',nameMoveOverlap:false,nameGap:62,nameTextStyle:{fontSize:60,...font}}),
    mainAxis('top',{gridIndex:0}),
    {type:'category',gridIndex:1,position:'bottom',data:['c'],z:6,axisLine:Object.assign({show:true},frame),axisTick:{show:false},axisLabel:{show:false}},
    {type:'category',gridIndex:1,position:'top',data:['c'],z:6,axisLine:Object.assign({show:true},frame),axisTick:{show:false},axisLabel:{show:false}}
  ],
  yAxis:[
    mainAxis('left',{gridIndex:0,axisLabel:{show:true,interval:showTick,fontSize:60,margin:11,...richLabel(60,8)},name:'Residue index',nameLocation:'middle',nameMoveOverlap:false,nameGap:112,nameRotate:90,nameTextStyle:{fontSize:60,...font}}),
    mainAxis('right',{gridIndex:0}),
    {type:'value',gridIndex:1,position:'right',min:levelBreaks[0],max:levelBreaks[16],z:6,splitLine:{show:false},
      axisLine:Object.assign({show:true},frame),
      axisTick:{show:true,customValues:colorbarTicks,length:6,lineStyle:{color:'#000',width:5,cap:'round'}},
      axisLabel:{show:true,customValues:colorbarTicks,fontSize:47,margin:10,...richLabel(47,11)}},
    {type:'value',gridIndex:1,position:'left',min:levelBreaks[0],max:levelBreaks[16],z:6,splitLine:{show:false},
      axisLine:Object.assign({show:true},frame),axisTick:{show:false},axisLabel:{show:false}}
  ],
  visualMap:{type:'piecewise',show:false,seriesIndex:0,pieces,dimension:2},
  series:[
    {type:'heatmap',xAxisIndex:0,yAxisIndex:0,data:heat,progressive:0,silent:true,emphasis:{disabled:true}},
    {type:'custom',xAxisIndex:0,yAxisIndex:0,silent:true,z:4,clip:true,data:[[204,0]],
      renderItem:(p,api)=>{
        const top=api.coord([api.value(0),N-1]);const bot=api.coord([api.value(0),0]);
        const w=api.size([1,1]);
        return {type:'rect',shape:{x:top[0]+w[0]/2-0.9,y:top[1]-w[1]/2,width:1.8,height:bot[1]-top[1]+w[1]},style:{fill:'#F4F4FF'}};
      }},
    ...levelColors.map((c,i)=>({type:'bar',xAxisIndex:2,yAxisIndex:2,stack:'bar',barWidth:'100%',silent:true,z:2,
      itemStyle:{color:c},data:[i===0?levelBreaks[1]:levelBreaks[i+1]-levelBreaks[i]]}))
  ]
});
}
</script></body></html>
